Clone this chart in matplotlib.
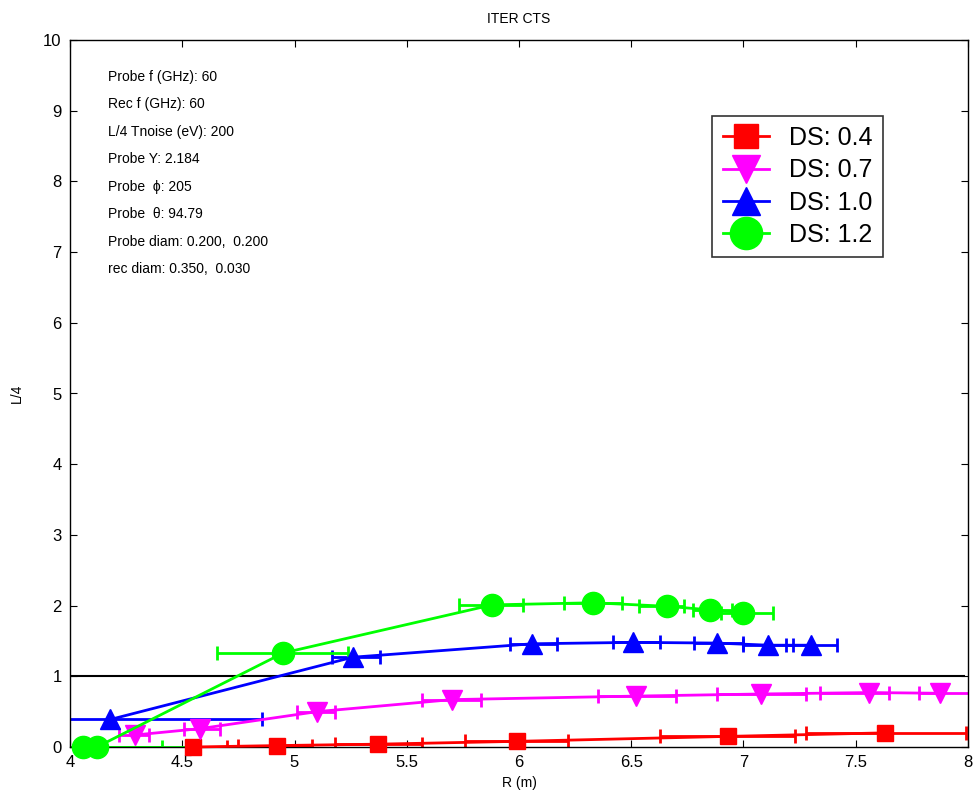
import matplotlib
matplotlib.use("Agg")
import matplotlib.pyplot as plt
import numpy as np

plt.rcParams['font.family'] = ['Liberation Sans', 'DejaVu Sans']

labels = ['DS: 0.4', 'DS: 0.7', 'DS: 1.0', 'DS: 1.2']
colors = ['#ff0000', '#ff00ff', '#0000ff', '#00ff00']
markers = ['s', 'v', '^', 'o']
msizes = [12, 14, 14, 16]

# R positions, L/4 values and horizontal spread (low / high R) for each series
r_04 = [4.55, 4.92, 5.37, 5.99, 6.93, 7.63]
l_04 = [0.0, 0.02, 0.04, 0.08, 0.15, 0.20]
lo_04 = [4.53, 4.75, 5.18, 5.76, 6.63, 7.28]
hi_04 = [4.70, 5.08, 5.57, 6.22, 7.23, 7.99]

r_07 = [4.29, 4.58, 5.10, 5.70, 6.52, 7.08, 7.56, 7.875]
l_07 = [0.17, 0.26, 0.50, 0.67, 0.72, 0.75, 0.77, 0.76]
lo_07 = [4.22, 4.51, 5.01, 5.57, 6.35, 6.88, 7.34, 7.78]
hi_07 = [4.35, 4.67, 5.18, 5.83, 6.70, 7.28, 7.65, 8.05]

r_10 = [4.18, 5.26, 6.06, 6.51, 6.88, 7.11, 7.30]
l_10 = [0.39, 1.27, 1.46, 1.48, 1.47, 1.44, 1.44]
lo_10 = [3.90, 5.165, 5.96, 6.42, 6.78, 7.00, 7.19]
hi_10 = [4.854, 5.38, 6.17, 6.63, 7.00, 7.22, 7.415]

r_12 = [4.06, 4.12, 4.95, 5.88, 6.33, 6.66, 6.85, 7.00]
l_12 = [0.0, 0.0, 1.33, 2.01, 2.04, 1.99, 1.94, 1.90]
lo_12 = [3.90, 3.90, 4.653, 5.734, 6.20, 6.536, 6.777, 6.90]
hi_12 = [4.408, 4.913, 5.24, 6.02, 6.457, 6.735, 6.95, 7.13]

series = [(r_04, l_04, lo_04, hi_04), (r_07, l_07, lo_07, hi_07),
          (r_10, l_10, lo_10, hi_10), (r_12, l_12, lo_12, hi_12)]

info = ['Probe f (GHz): 60', 'Rec f (GHz): 60', 'L/4 Tnoise (eV): 200',
        'Probe Y: 2.184', 'Probe  \u03d5: 205', 'Probe  \u03b8: 94.79',
        'Probe diam: 0.200,  0.200', 'rec diam: 0.350,  0.030']

fig = plt.figure(figsize=(9.78, 8.05), dpi=100)
ax = fig.add_axes([70 / 978, 1 - 747 / 805, 898 / 978, 707 / 805])

# error bars first, then the connecting lines with markers
for (r, l, lo, hi), c in zip(series, colors):
    r = np.array(r)
    xerr = [r - np.array(lo), np.array(hi) - r]
    ax.errorbar(r, l, xerr=xerr, fmt='none', ecolor=c, elinewidth=2,
                capsize=5, capthick=2, zorder=2)

handles = []
for (r, l, lo, hi), c, m, ms, lab in zip(series, colors, markers, msizes, labels):
    h, = ax.plot(r, l, color=c, marker=m, markersize=ms, linewidth=2,
                 markeredgecolor=c, label=lab, zorder=3, clip_on=False)
    handles.append(h)

ax.plot([4, 7.98], [1, 1], color='black', linewidth=1.5, zorder=1)

for i, t in enumerate(info):
    ax.text(0.042, 0.948 - i * 0.0389, t, transform=ax.transAxes,
            fontsize=10, va='center', ha='left')

leg = ax.legend(handles=handles, loc='upper left', bbox_to_anchor=(0.715, 0.893),
                fontsize=18, frameon=True, fancybox=False, edgecolor='black',
                markerscale=1.45, handlelength=1.85, borderpad=0.42,
                labelspacing=0.33, handletextpad=0.8, borderaxespad=0)
leg.get_frame().set_linewidth(1.2)

ax.set_xlim(4, 8)
ax.set_ylim(0, 10)
ax.set_xticks(np.arange(4, 8.01, 0.5))
ax.set_xticklabels(['4', '4.5', '5', '5.5', '6', '6.5', '7', '7.5', '8'])
ax.set_yticks(range(0, 11))
ax.tick_params(direction='in', top=True, right=True, labelsize=12, length=5, pad=6)
for s in ax.spines.values():
    s.set_linewidth(1.0)

ax.set_title('ITER CTS', fontsize=10, pad=12)
ax.set_xlabel('R (m)', fontsize=10, labelpad=4)
ax.set_ylabel('L/4', fontsize=10, labelpad=14)

fig.savefig('out.png', dpi=100)
